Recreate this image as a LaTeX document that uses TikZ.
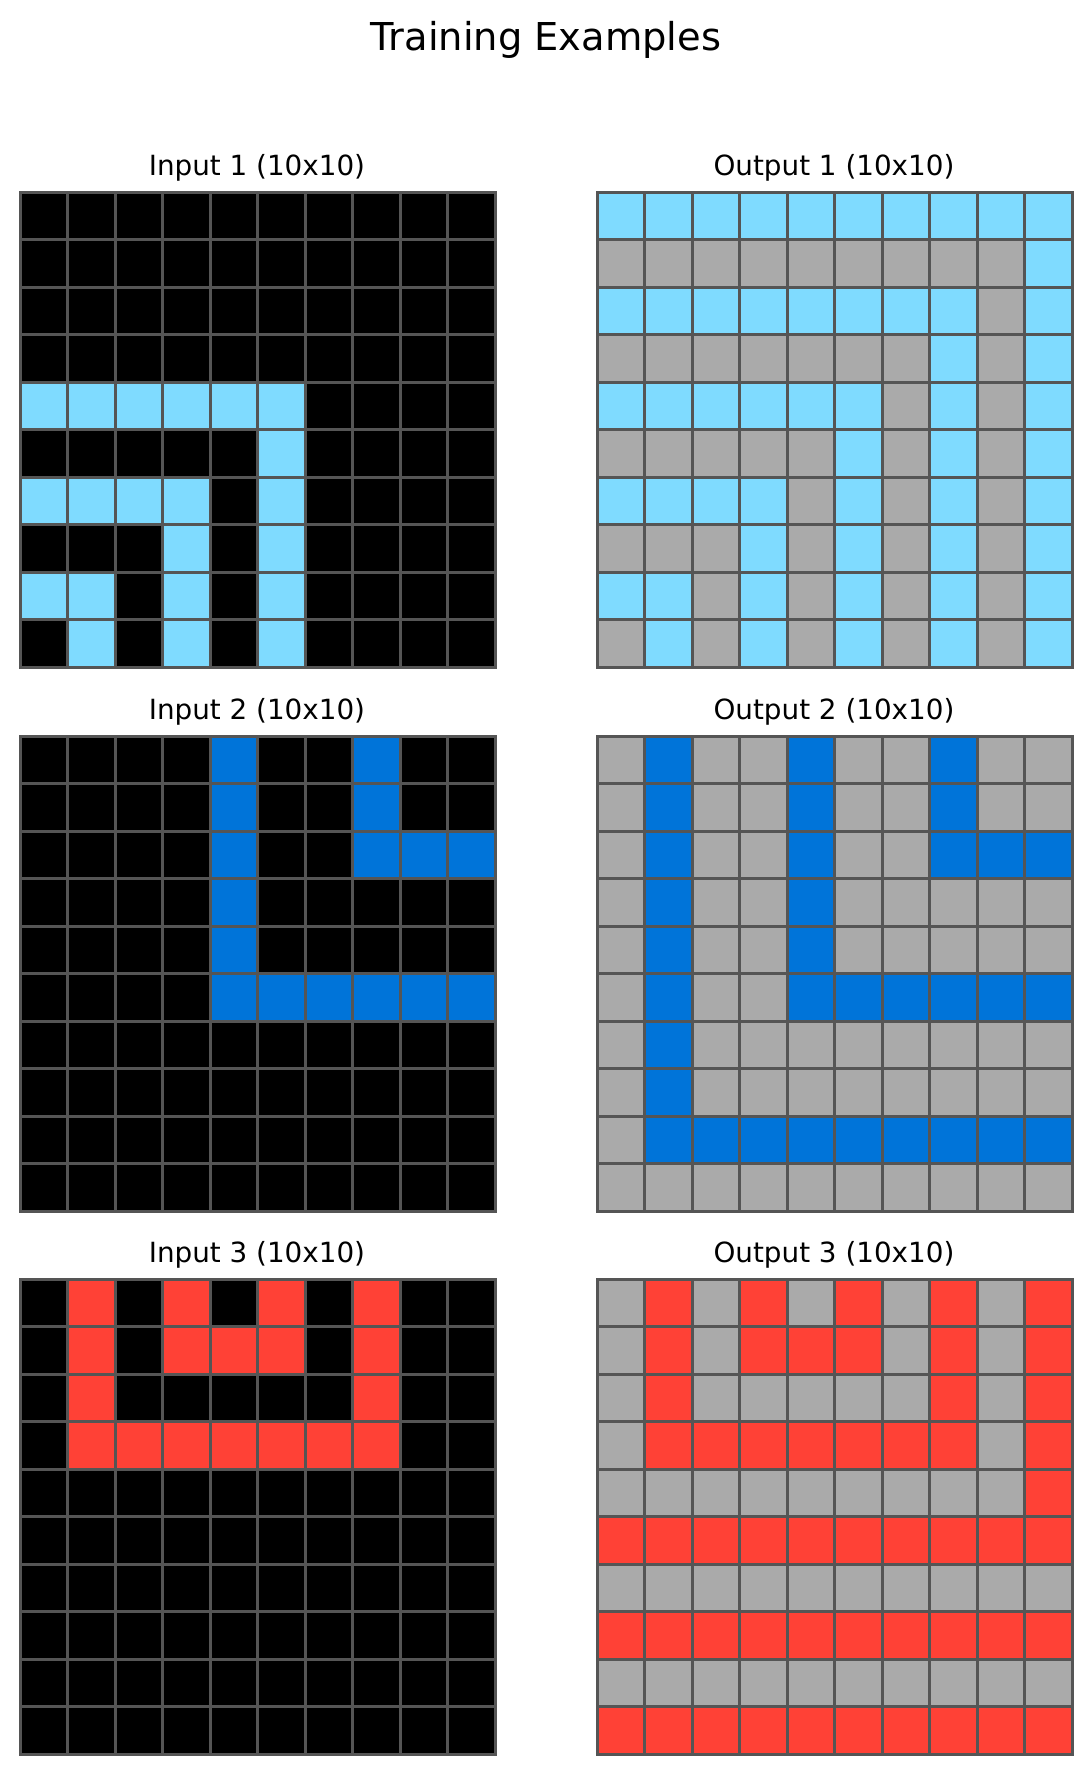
\documentclass[tikz,border=0pt]{standalone}
\usepackage{fontspec}
\setmainfont{DejaVu Sans}
\definecolor{arc0}{HTML}{000000}
\definecolor{arc1}{HTML}{0074D9}
\definecolor{arc2}{HTML}{FF4136}
\definecolor{arc5}{HTML}{AAAAAA}
\definecolor{arc8}{HTML}{7FDBFF}
\definecolor{gridline}{HTML}{555555}
\tikzset{
  gridstyle/.style={draw=gridline, line width=1.35pt, line cap=rect},
  lbl/.style={anchor=base, inner sep=0pt, font=\fontsize{13.9pt}{16pt}\selectfont},
  ttl/.style={anchor=base, inner sep=0pt, font=\fontsize{19.2pt}{22pt}\selectfont}
}
\newcommand\arcgrid[3]{%
  \foreach \rowlist [count=\r from 0] in {#3} {
    \foreach \c [count=\k from 0] in \rowlist {
      \fill[fill=arc\c] ({#1+\k*47.5},{#2+\r*47.5}) rectangle ++(47.5,47.5);
    }
  }
  \foreach \i in {0,...,10} {
    \draw[gridstyle] ({#1+\i*47.5},#2) -- ++(0,475);
    \draw[gridstyle] (#1,{#2+\i*47.5}) -- ++(475,0);
  }
}
\begin{document}
\begin{tikzpicture}[x=0.5pt,y=-0.5pt]
\useasboundingbox[fill=white] (0,0) rectangle (1092,1774);
\node[ttl] (title) at (546,50) {Training Examples};

\node[lbl] (in1) at (257,175.7) {Input 1 (10x10)};
\node[lbl] (out1) at (834,175.7) {Output 1 (10x10)};
\node[lbl] (in2) at (257,719.7) {Input 2 (10x10)};
\node[lbl] (out2) at (834,719.7) {Output 2 (10x10)};
\node[lbl] (in3) at (257,1262.7) {Input 3 (10x10)};
\node[lbl] (out3) at (834,1262.7) {Output 3 (10x10)};

\arcgrid{20.3}{192.3}{
{0,0,0,0,0,0,0,0,0,0},
{0,0,0,0,0,0,0,0,0,0},
{0,0,0,0,0,0,0,0,0,0},
{0,0,0,0,0,0,0,0,0,0},
{8,8,8,8,8,8,0,0,0,0},
{0,0,0,0,0,8,0,0,0,0},
{8,8,8,8,0,8,0,0,0,0},
{0,0,0,8,0,8,0,0,0,0},
{8,8,0,8,0,8,0,0,0,0},
{0,8,0,8,0,8,0,0,0,0}}

\arcgrid{597.3}{192.3}{
{8,8,8,8,8,8,8,8,8,8},
{5,5,5,5,5,5,5,5,5,8},
{8,8,8,8,8,8,8,8,5,8},
{5,5,5,5,5,5,5,8,5,8},
{8,8,8,8,8,8,5,8,5,8},
{5,5,5,5,5,8,5,8,5,8},
{8,8,8,8,5,8,5,8,5,8},
{5,5,5,8,5,8,5,8,5,8},
{8,8,5,8,5,8,5,8,5,8},
{5,8,5,8,5,8,5,8,5,8}}

\arcgrid{20.3}{736.3}{
{0,0,0,0,1,0,0,1,0,0},
{0,0,0,0,1,0,0,1,0,0},
{0,0,0,0,1,0,0,1,1,1},
{0,0,0,0,1,0,0,0,0,0},
{0,0,0,0,1,0,0,0,0,0},
{0,0,0,0,1,1,1,1,1,1},
{0,0,0,0,0,0,0,0,0,0},
{0,0,0,0,0,0,0,0,0,0},
{0,0,0,0,0,0,0,0,0,0},
{0,0,0,0,0,0,0,0,0,0}}

\arcgrid{597.3}{736.3}{
{5,1,5,5,1,5,5,1,5,5},
{5,1,5,5,1,5,5,1,5,5},
{5,1,5,5,1,5,5,1,1,1},
{5,1,5,5,1,5,5,5,5,5},
{5,1,5,5,1,5,5,5,5,5},
{5,1,5,5,1,1,1,1,1,1},
{5,1,5,5,5,5,5,5,5,5},
{5,1,5,5,5,5,5,5,5,5},
{5,1,1,1,1,1,1,1,1,1},
{5,5,5,5,5,5,5,5,5,5}}

\arcgrid{20.3}{1279.3}{
{0,2,0,2,0,2,0,2,0,0},
{0,2,0,2,2,2,0,2,0,0},
{0,2,0,0,0,0,0,2,0,0},
{0,2,2,2,2,2,2,2,0,0},
{0,0,0,0,0,0,0,0,0,0},
{0,0,0,0,0,0,0,0,0,0},
{0,0,0,0,0,0,0,0,0,0},
{0,0,0,0,0,0,0,0,0,0},
{0,0,0,0,0,0,0,0,0,0},
{0,0,0,0,0,0,0,0,0,0}}

\arcgrid{597.3}{1279.3}{
{5,2,5,2,5,2,5,2,5,2},
{5,2,5,2,2,2,5,2,5,2},
{5,2,5,5,5,5,5,2,5,2},
{5,2,2,2,2,2,2,2,5,2},
{5,5,5,5,5,5,5,5,5,2},
{2,2,2,2,2,2,2,2,2,2},
{5,5,5,5,5,5,5,5,5,5},
{2,2,2,2,2,2,2,2,2,2},
{5,5,5,5,5,5,5,5,5,5},
{2,2,2,2,2,2,2,2,2,2}}
\end{tikzpicture}
\end{document}
